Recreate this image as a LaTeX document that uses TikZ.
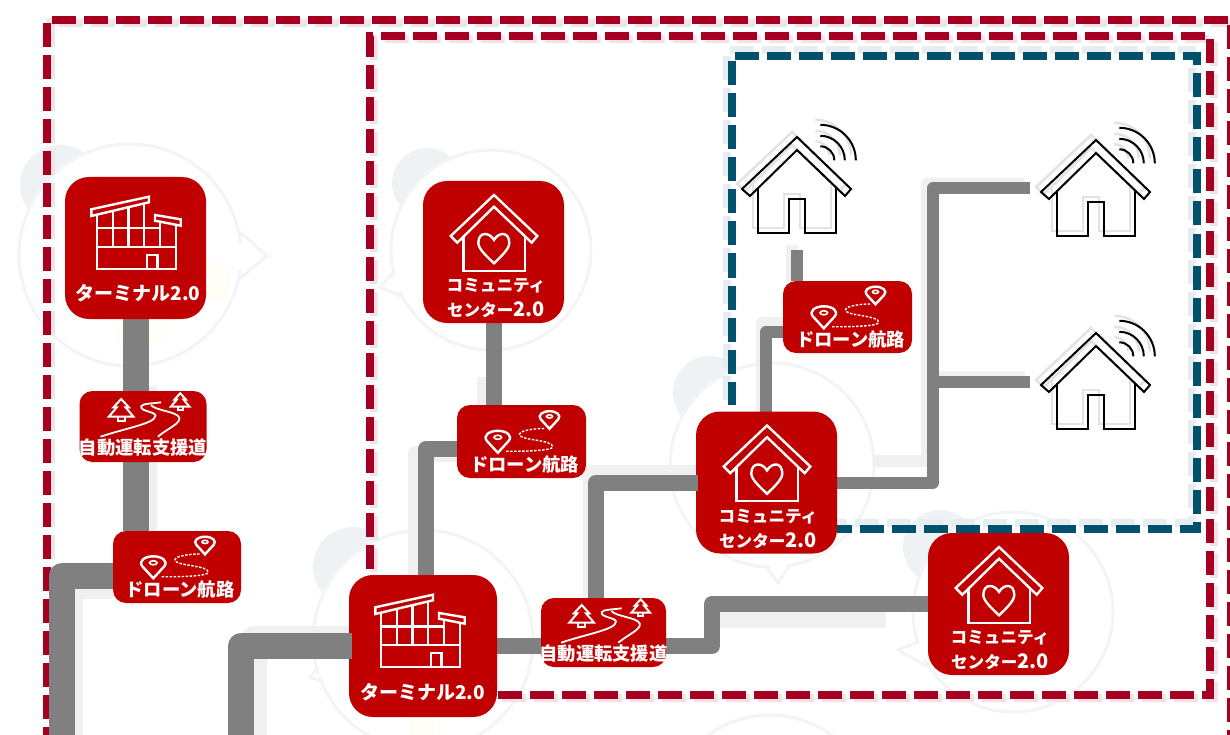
\documentclass[tikz,border=0pt]{standalone}
\usepackage{fontspec}
\setmainfont{Noto Sans CJK JP}
\usepackage{xcolor}
\usetikzlibrary{backgrounds}
\definecolor{hubred}{HTML}{C00000}
\definecolor{framered}{HTML}{A50021}
\definecolor{frameblue}{HTML}{00506E}
\definecolor{linkgray}{HTML}{808080}
\definecolor{ghostlink}{HTML}{F0F0F0}
\definecolor{ghostring}{HTML}{F2F4F5}
\definecolor{ghostdisc}{HTML}{EFF2F4}
\definecolor{ghostred}{HTML}{F6E2E6}
\definecolor{ghostblue}{HTML}{E6EDF0}
\definecolor{ghostyellow}{HTML}{FFFDF5}
\newcommand{\bigdigits}[1]{{\fontsize{20}{25}\selectfont #1}}

\begin{document}
\begin{tikzpicture}[
  x=1pt,
  y=-1pt,
  hub/.style={fill=hubred, rounded corners=24pt, inner sep=0pt, outer sep=0pt, minimum width=141pt, minimum height=142pt},
  stop/.style={fill=hubred, rounded corners=13pt, inner sep=0pt, outer sep=0pt, minimum width=127pt, minimum height=71pt},
  hublabel/.style={text=white, align=center, inner sep=0pt, font=\bfseries\fontsize{16.6}{25}\selectfont},
  termlabel/.style={text=white, inner sep=0pt, font=\bfseries\fontsize{19}{24}\selectfont},
  stoplabel/.style={text=white, inner sep=0pt, font=\bfseries\fontsize{18.3}{22}\selectfont},
  framedash/.style={line width=8pt, dash pattern=on 24pt off 8pt},
  trunk/.style={draw=linkgray, line width=26pt, line join=round},
  branch/.style={draw=linkgray, line width=16pt, line join=round},
  twig/.style={draw=linkgray, line width=12pt, line join=round},
  icon/.style={draw=white, line width=2.4pt},
  ring/.style={draw=ghostring, line width=3pt, fill=white},
  building/.pic={
    \draw[icon] (-44.2,-38.7) -- (13.5,-51.3) -- (13.5,-45.7) -- (-44.2,-32) -- cycle;
    \draw[icon] (19.5,-33) -- (45.2,-28.7) -- (45.2,-22.3) -- (19.5,-27.3) -- cycle;
    \draw[icon] (-38.8,-33) -- (-38.8,21) -- (40.2,21) -- (40.2,-24);
    \draw[icon] (-38.8,-19.7) -- (24.5,-19.7);
    \draw[icon] (-38.8,-1.3) -- (40.2,-1.3);
    \draw[icon] (-22.8,-36) -- (-22.8,-1.3);
    \draw[icon] (-7.2,-40) -- (-7.2,-1.3);
    \draw[icon] (8.5,-44) -- (8.5,-1.3);
    \draw[icon] (24.5,-27) -- (24.5,-1.3);
    \draw[icon] (11.2,21) -- (11.2,7) -- (21.8,7) -- (21.8,21);
  },
  hearthouse/.pic={
    \draw[icon] (0.5,-57) -- (43.8,-16) -- (38.2,-9.3) -- (0.5,-45.3) -- (-36.2,-9.3) -- (-42.8,-16) -- cycle;
    \draw[icon] (-30.2,-15) -- (-30.2,18.7) -- (31.5,18.7) -- (31.5,-15);
    \draw[icon] (0.5,-12) .. controls (-4,-20) and (-15,-21) .. (-15.2,-9) .. controls (-15.2,-3) and (-6,5) .. (0.5,11.3) .. controls (7,5) and (15.8,-3) .. (15.8,-9) .. controls (15.6,-21) and (5,-20) .. (0.5,-12) -- cycle;
  },
  tree/.pic={
    \draw[draw=white, line width=2pt] (0,0) -- (7.6,8.3) -- (4.3,8.3) -- (12.3,17.7) -- (-12.4,17.7) -- (-4.4,8.3) -- (-7.7,8.3) -- cycle;
    \draw[draw=white, line width=2pt] (-3.4,17.7) -- (-3.4,21.7) -- (3.3,21.7) -- (3.3,17.7);
  },
  roadway/.pic={
    \pic at (-21.8,-27.5) {tree};
    \pic[scale=0.75] at (37.2,-33.2) {tree};
    \draw[draw=white, line width=1.8pt] (-42.5,10.2) .. controls (-15,1) and (12,-3) .. (12.5,-10.8) .. controls (12.5,-15) and (-3,-15) .. (-1.8,-20.2) .. controls (-1,-23) and (10,-23) .. (18.2,-24.2);
    \draw[draw=white, line width=1.8pt] (14.8,10.2) .. controls (26,1) and (38,-3) .. (36.2,-9) .. controls (34,-15) and (12,-16) .. (8,-21.5);
  },
  pin/.pic={
    \draw[icon] (0,15) -- (-11,3) .. controls (-15,-2) and (-9,-7) .. (0,-7) .. controls (9,-7) and (15,-2) .. (11,3) -- cycle;
    \draw[icon, line width=1.6pt] (0,-0.5) ellipse [x radius=3.8, y radius=2];
  },
  dronepath/.pic={
    \pic at (-23.7,-3.7) {pin};
    \pic[scale=0.8] at (28,-24.7) {pin};
    \draw[draw=white, line width=1.4pt, dash pattern=on 2.5pt off 1.5pt] (-15.3,9.7) .. controls (5,10) and (31.3,9) .. (31.3,5.3) .. controls (31.3,-2) and (-2,-1) .. (-2,-7) .. controls (-2,-11) and (12,-13) .. (23,-13);
  },
  wifihouse/.pic={
    \draw[black, line width=2pt] (0,0) -- (54,52) -- (48,59) -- (0,13) -- (-47,59) -- (-55,52) -- cycle;
    \draw[black, line width=2pt] (-39,50) -- (-39,96) -- (-8,96) -- (-8,62) -- (8,62) -- (8,96) -- (39,96) -- (39,50);
    \draw[black, line width=2pt] (23.3,9.3) arc [start angle=-90, end angle=0, radius=14];
    \draw[black, line width=2pt] (23.3,-1.2) arc [start angle=-90, end angle=0, radius=24.5];
    \draw[black, line width=2pt] (23.3,-12.2) arc [start angle=-90, end angle=0, radius=35.5];
  },
  ghosthouse/.pic={
    \draw[black!11, line width=2.5pt] (0,0) -- (54,52) -- (48,59) -- (0,13) -- (-47,59) -- (-55,52) -- cycle;
    \draw[black!11, line width=2.5pt] (-39,50) -- (-39,96) -- (-8,96) -- (-8,62) -- (8,62) -- (8,96) -- (39,96) -- (39,50);
    \draw[black!11, line width=2.5pt] (23.3,9.3) arc [start angle=-90, end angle=0, radius=14];
    \draw[black!11, line width=2.5pt] (23.3,-1.2) arc [start angle=-90, end angle=0, radius=24.5];
    \draw[black!11, line width=2.5pt] (23.3,-12.2) arc [start angle=-90, end angle=0, radius=35.5];
  }
]
\useasboundingbox (0,0) rectangle (1230,735);
\clip (0,0) rectangle (1230,735);

% hubs
\node[hub] (term1) at (135.5,248) {};
\node[hub, minimum width=148pt] (term2) at (423,646) {};
\node[hub] (comm1) at (493.5,252) {};
\node[hub] (comm2) at (766.5,482.5) {};
\node[hub] (comm3) at (998.5,604) {};

% stops
\node[stop] (road1) at (143,426.5) {};
\node[stop, minimum width=125pt, minimum height=69pt] (road2) at (603.5,632.5) {};
\node[stop, minimum width=128pt, minimum height=72pt] (drone1) at (177,567) {};
\node[stop, minimum width=129pt, minimum height=73pt] (drone2) at (521.5,441.5) {};
\node[stop, minimum width=129pt, minimum height=72pt] (drone3) at (847.5,317) {};

% junctions
\coordinate (j1) at (62,576);
\coordinate (e1) at (62,735);
\coordinate (j2) at (241,646);
\coordinate (e2) at (241,735);
\coordinate (j3) at (426,449);
\coordinate (j4) at (596,482.5);
\coordinate (j5) at (712,646);
\coordinate (j6) at (712,604);
\coordinate (j7) at (933,482.5);
\coordinate (j8) at (933,188);
\coordinate (j9) at (933,382);
\coordinate (j10) at (766,332);
\coordinate (h1in) at (797,250);
\coordinate (h2in) at (1030,188);
\coordinate (h3in) at (1030,382);

\begin{scope}[on background layer]
  % faint bubbles
  \fill[ghostdisc] (60,185) circle (40);
  \draw[ring] (240,232) -- (267,256) -- (238,280);
  \draw[ring] (130,255) circle (111);
  \fill[white] (230,236) -- (260,256) -- (230,276) -- cycle;
  \fill[ghostyellow] (205,262) rectangle (229,300);
  \fill[ghostyellow] (116,322) rectangle (165,345);

  \fill[ghostdisc] (353,567) circle (40);
  \draw[ring] (328,655) -- (310,677) -- (345,690);
  \draw[ring] (423,640) circle (110);
  \fill[white] (335,655) -- (316,677) -- (345,684) -- cycle;
  \fill[ghostyellow] (410,716) rectangle (435,735);

  \fill[ghostdisc] (427,183) circle (35);
  \draw[ring] (396,270) -- (380,287) -- (410,300);
  \draw[ring] (491,250) circle (100);
  \fill[white] (402,270) -- (386,286) -- (412,296) -- cycle;

  \fill[ghostdisc] (710,393) circle (37);
  \draw[ring] (765,565) -- (778,583) -- (790,565);
  \draw[ring] (772,465) circle (102);
  \fill[white] (765,560) -- (778,578) -- (790,560) -- cycle;

  \fill[ghostdisc] (940,547) circle (37);
  \draw[ring] (922,640) -- (898,650) -- (930,668);
  \draw[ring] (1013,612) circle (100);
  \fill[white] (925,640) -- (904,650) -- (932,663) -- cycle;

  \draw[ring] (770,820) circle (105);

  % frame shadows
  \draw[framedash, ghostred, dash phase=16pt] (50.5,735) -- (50.5,23.5) -- (1235,23.5) -- (1235,735);
  \draw[framedash, ghostred] (502,698) -- (1214,698) -- (1214,39) -- (374,39) -- (374,578);
  \draw[framedash, ghostblue, dash phase=9pt] (832,523) -- (1192,523) -- (1192,50.5) -- (727,50.5) -- (727,400);

  % frames
  \draw[framedash, framered, dash phase=16pt] (46.5,735) -- (46.5,20.5) -- (1231,20.5) -- (1231,735);
  \draw[framedash, framered] (498,695) -- (1210,695) -- (1210,36) -- (370,36) -- (370,575);
  \draw[framedash, frameblue, dash phase=9pt] (837,528.5) -- (1197,528.5) -- (1197,56) -- (732,56) -- (732,405);

  % link shadows
  \draw[trunk, ghostlink] (144,386) -- (144,531);
  \draw[trunk, ghostlink] (113,586) -- (70,586) -- (70,735);
  \draw[trunk, ghostlink] (350,639) -- (254,639) -- (254,735);
  \draw[branch, ghostlink] (484.5,377) -- (484.5,405);
  \draw[branch, ghostlink] (457,454) -- (416,454) -- (416,575);
  \draw[branch, ghostlink] (696,473) -- (591,473) -- (591,598);
  \draw[branch, ghostlink] (712,620) -- (886,620);
  \draw[twig, ghostlink] (873,461) -- (927,461) -- (927,184) -- (1025,184);
  \draw[twig, ghostlink] (927,377) -- (1025,377);
  \draw[twig, ghostlink] (783,323) -- (762,323) -- (762,412);
  \draw[twig, ghostlink] (792,245) -- (792,281);

  % links
  \draw[trunk] (term1.south) -- (term1.south |- road1.north);
  \draw[trunk] (term1.south |- road1.south) -- (term1.south |- drone1.north);
  \draw[trunk] (drone1.west |- j1) -- (j1) -- (e1);
  \draw[branch] (term2.north -| j3) -- (j3) -- (drone2.west |- j3);
  \draw[branch] (comm1.south) -- (comm1.south |- drone2.north);
  \draw[branch] (term2.east) -- (road2.west |- term2.east);
  \draw[branch] (road2.east |- j5) -- (j5) -- (j6) -- (comm3.west |- j6);
  \draw[branch] (road2.north -| j4) -- (j4) -- (comm2.west |- j4);
  \draw[twig] (comm2.east) -- (j7) -- (j8) -- (h2in);
  \draw[twig] (j9) -- (h3in);
  \draw[twig] (comm2.north -| j10) -- (j10) -- (drone3.west |- j10);
  \draw[twig] (drone3.north -| h1in) -- (h1in);
\end{scope}

% links that lie over the hubs
\draw[trunk] ([xshift=3pt]term2.west) -- (j2) -- (e2);
\draw[branch] ([xshift=2pt]comm2.west) -- (comm2.west -| j4);

% houses
\foreach \hx/\hy in {797/137, 1096/140, 1096/333} {
  \begin{scope}[on background layer]
    \pic at (\hx-5,\hy-5) {ghosthouse};
  \end{scope}
  \pic at (\hx,\hy) {wifihouse};
}

% icons
\pic at (135.5,248) {building};
\pic at (419.5,646) {building};
\pic at (comm1) {hearthouse};
\pic at (comm2) {hearthouse};
\pic at (comm3) {hearthouse};
\pic at (road1) {roadway};
\pic at (road2) {roadway};
\pic at (drone1) {dronepath};
\pic at (drone2) {dronepath};
\pic at (drone3) {dronepath};

% labels
\node[termlabel] (term1text) at (138,293) {ターミナル2.0};
\node[termlabel] (term2text) at (422.5,692) {ターミナル2.0};
\node[hublabel] (comm1text) at (496,298.5) {コミュニティ\\センター\bigdigits{2.0}};
\node[hublabel] (comm2text) at (768,529) {コミュニティ\\センター\bigdigits{2.0}};
\node[hublabel] (comm3text) at (1000,650.5) {コミュニティ\\センター\bigdigits{2.0}};
\node[stoplabel] (road1text) at (143,447.5) {自動運転支援道};
\node[stoplabel] (road2text) at (603.5,654) {自動運転支援道};
\node[stoplabel] (drone1text) at (180,590) {ドローン航路};
\node[stoplabel] (drone2text) at (524.5,464.5) {ドローン航路};
\node[stoplabel] (drone3text) at (850.5,340) {ドローン航路};
\end{tikzpicture}
\end{document}
